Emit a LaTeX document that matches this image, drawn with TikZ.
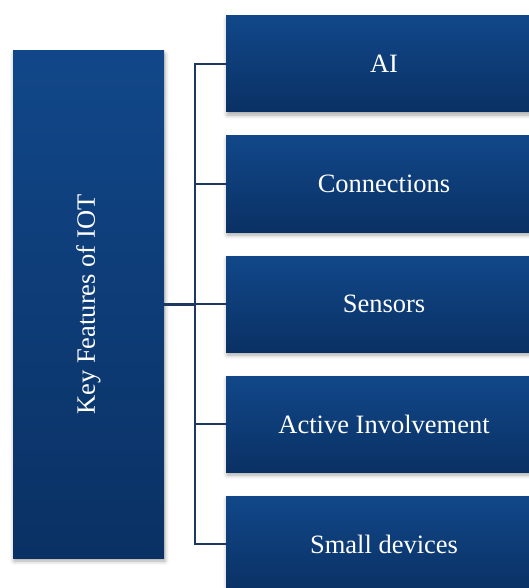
\documentclass[tikz,border=0pt]{standalone}
\usepackage{fontspec}
\setmainfont{Liberation Serif}
\usetikzlibrary{shadows.blur}
\definecolor{boxtop}{RGB}{17,71,137}
\definecolor{boxbot}{RGB}{10,49,100}
\definecolor{conncol}{RGB}{30,56,96}
\tikzset{
  featbox/.style={rectangle, inner sep=0pt, top color=boxtop, bottom color=boxbot,
    draw=none, text=white, font=\fontsize{26.5}{31}\selectfont,
    blur shadow={shadow xshift=1pt, shadow yshift=-3pt, shadow blur radius=4pt, shadow opacity=35}},
  conn/.style={draw=conncol, line width=1.8pt}
}
\begin{document}
\begin{tikzpicture}[x=1pt,y=-1pt]
\useasboundingbox (0,0) rectangle (529,588);
\clip (0,0) rectangle (529,588);
\node[featbox, minimum width=151pt, minimum height=507pt] (key) at (88.5,304.5) {\rotatebox{90}{Key Features of IOT}};
\node[featbox, minimum width=316pt, minimum height=96pt] (ai) at (384,64) {AI};
\node[featbox, minimum width=316pt, minimum height=96pt] (conx) at (384,184) {Connections};
\node[featbox, minimum width=316pt, minimum height=96pt] (sens) at (384,304) {Sensors};
\node[featbox, minimum width=316pt, minimum height=96pt] (act) at (384,424) {Active Involvement};
\node[featbox, minimum width=316pt, minimum height=96pt] (small) at (384,544) {Small devices};
\coordinate (bus) at (195,304.5);
\draw[conn, line width=2.4pt] (key.east) -- (bus);
\draw[conn] (bus) |- (ai.west);
\draw[conn] (bus) |- (conx.west);
\draw[conn] (bus) |- (sens.west);
\draw[conn] (bus) |- (act.west);
\draw[conn] (bus) |- (small.west);
\end{tikzpicture}
\end{document}
